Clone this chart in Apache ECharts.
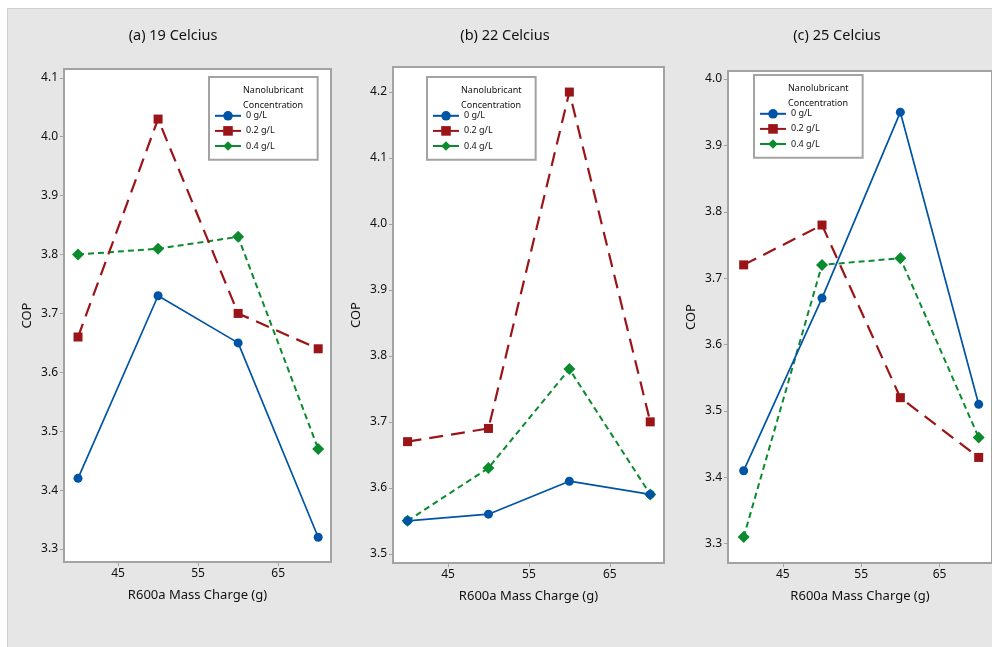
<!DOCTYPE html>
<html>
<head>
<meta charset="utf-8">
<script src="https://cdn.jsdelivr.net/npm/echarts@6/dist/echarts.min.js"></script>
<style>
  html, body { margin: 0; padding: 0; background: #fff; }
  #chart { width: 992px; height: 647px; }
</style>
</head>
<body>
<div id="chart"></div>
<script>
// R600a mass charge (g)
var charges = [40, 50, 60, 70];
var seriesNames = ['0 g/L', '0.2 g/L', '0.4 g/L'];
var panelTitles = ['(a) 19 Celcius', '(b) 22 Celcius', '(c) 25 Celcius'];
var xTicks = [45, 55, 65];

// COP values, one array per panel and concentration
var cop19_0 = [3.42, 3.73, 3.65, 3.32];
var cop19_02 = [3.66, 4.03, 3.70, 3.64];
var cop19_04 = [3.80, 3.81, 3.83, 3.47];

var cop22_0 = [3.55, 3.56, 3.61, 3.59];
var cop22_02 = [3.67, 3.69, 4.20, 3.70];
var cop22_04 = [3.55, 3.63, 3.78, 3.59];

var cop25_0 = [3.41, 3.67, 3.95, 3.51];
var cop25_02 = [3.72, 3.78, 3.52, 3.43];
var cop25_04 = [3.31, 3.72, 3.73, 3.46];

var yTicks19 = [3.3, 3.4, 3.5, 3.6, 3.7, 3.8, 3.9, 4.0, 4.1];
var yTicks22 = [3.5, 3.6, 3.7, 3.8, 3.9, 4.0, 4.1, 4.2];
var yTicks25 = [3.3, 3.4, 3.5, 3.6, 3.7, 3.8, 3.9, 4.0];

var panelData = [
    [cop19_0, cop19_02, cop19_04],
    [cop22_0, cop22_02, cop22_04],
    [cop25_0, cop25_02, cop25_04]
];
var panelYTicks = [yTicks19, yTicks22, yTicks25];

var FONT = 'Noto Sans';
var FRAME = '#a3a3a3';
var colors = ['#0054a6', '#9b1518', '#0b8a2e'];
var symbols = ['circle', 'rect', 'diamond'];
var symbolSizes = [9, 9, 12];
var lineStyles = [
    { width: 1.7, type: 'solid' },
    { width: 2.2, type: [14, 8] },
    { width: 2, type: [6, 4] }
];

// layout of each panel (pixels) and axis ranges
var layout = [
    { left: 64, top: 69, width: 267, height: 493, xMin: 38.25, xMax: 71.6, yMin: 3.278, yMax: 4.115, titleX: 173, legendX: 209, legendY: 77 },
    { left: 393, top: 67, width: 271, height: 496, xMin: 38.2, xMax: 71.7, yMin: 3.486, yMax: 4.238, titleX: 505, legendX: 427, legendY: 77 },
    { left: 728, top: 71, width: 268, height: 492, xMin: 38.0, xMax: 71.7, yMin: 3.271, yMax: 4.012, titleX: 837, legendX: 754, legendY: 75 }
];

var grids = [], xAxes = [], yAxes = [], series = [], titles = [], legends = [], graphics = [];

graphics.push({
    type: 'rect',
    z: -10,
    shape: { x: 7.5, y: 8.5, width: 1000, height: 660 },
    style: { fill: '#e6e6e6', stroke: '#cfcfcf', lineWidth: 1 }
});

var i, j, p;
for (i = 0; i < layout.length; i++) {
    p = layout[i];
    grids.push({
        left: p.left, top: p.top, width: p.width, height: p.height,
        show: true, backgroundColor: '#fff', borderColor: FRAME, borderWidth: 2
    });
    xAxes.push({
        type: 'value', gridIndex: i, min: p.xMin, max: p.xMax,
        name: 'R600a Mass Charge (g)', nameLocation: 'middle', nameGap: 27,
        nameTextStyle: { fontFamily: FONT, fontSize: 13, color: '#111' },
        splitLine: { show: false },
        axisLine: { lineStyle: { color: FRAME, width: 2 } },
        axisTick: { customValues: xTicks, length: 4, lineStyle: { color: FRAME, width: 1 } },
        axisLabel: { customValues: xTicks, margin: 6, fontFamily: FONT, fontSize: 12, color: '#111' }
    });
    yAxes.push({
        type: 'value', gridIndex: i, min: p.yMin, max: p.yMax,
        name: 'COP', nameLocation: 'middle', nameGap: 30,
        nameTextStyle: { fontFamily: FONT, fontSize: 13, color: '#111' },
        splitLine: { show: false },
        axisLine: { show: true, lineStyle: { color: FRAME, width: 2 } },
        axisTick: { show: true, customValues: panelYTicks[i], length: 4, lineStyle: { color: FRAME, width: 1 } },
        axisLabel: {
            customValues: panelYTicks[i], margin: 6, fontFamily: FONT, fontSize: 12, color: '#111',
            formatter: function (v) { return v.toFixed(1); }
        }
    });
    titles.push({
        text: panelTitles[i], left: p.titleX, top: 28, textAlign: 'center', padding: 0,
        textStyle: { fontFamily: FONT, fontSize: 14.5, fontWeight: 'normal', color: '#111' }
    });
    legends.push({
        data: seriesNames, orient: 'vertical', left: p.legendX, top: p.legendY,
        padding: [34, 43, 9, 5], itemGap: 5.5, itemWidth: 26, itemHeight: 12,
        backgroundColor: '#fff', borderColor: FRAME, borderWidth: 2, borderRadius: 0,
        selectedMode: false, lineStyle: { type: 'solid' },
        textStyle: { fontFamily: FONT, fontSize: 9, color: '#111' }
    });
    graphics.push({
        type: 'text', x: p.legendX + 34, y: p.legendY + 6, z: 100,
        style: { text: 'Nanolubricant\nConcentration', font: '9px "Noto Sans"', fill: '#111', lineHeight: 15 }
    });
    for (j = 0; j < seriesNames.length; j++) {
        series.push({
            name: seriesNames[j], type: 'line', xAxisIndex: i, yAxisIndex: i,
            data: charges.map(function (c, k) { return [c, panelData[i][j][k]]; }),
            symbol: symbols[j], symbolSize: symbolSizes[j], showSymbol: true,
            color: colors[j],
            itemStyle: { color: colors[j] },
            lineStyle: { color: colors[j], width: lineStyles[j].width, type: lineStyles[j].type },
            animation: false, z: 3 + (2 - j)
        });
    }
}

var myChart = echarts.init(document.getElementById('chart'), null, { renderer: 'canvas' });
myChart.setOption({
    animation: false,
    title: titles,
    legend: legends,
    grid: grids,
    xAxis: xAxes,
    yAxis: yAxes,
    series: series,
    graphic: graphics
});
</script>
</body>
</html>
